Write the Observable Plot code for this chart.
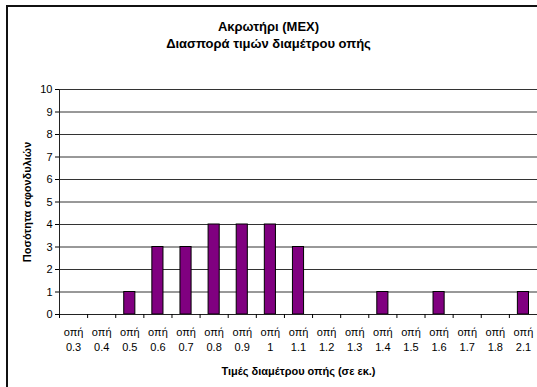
<!DOCTYPE html>
<html>
<head>
<meta charset="utf-8">
<script src="https://cdn.jsdelivr.net/npm/d3@7"></script>
<script src="https://cdn.jsdelivr.net/npm/@observablehq/plot@0.6"></script>
<style>
  html, body { margin: 0; padding: 0; background: #fff; overflow: hidden; }
  body { width: 537px; height: 387px; position: relative; font-family: "Liberation Sans", Arial, sans-serif; }
  #border { position: absolute; left: 6px; top: 5px; width: 600px; height: 450px; border: 2px solid #111; box-sizing: border-box; }
  #title { position: absolute; left: 0; top: 18px; width: 537px; text-align: center; font-weight: bold; font-size: 13px; line-height: 17px; color: #000; }
  #chart { position: absolute; left: 0; top: 60px; }
  #chart svg { overflow: visible; }
  g[aria-label="y-axis label"] text, g[aria-label="x-axis label"] text { font-weight: bold; }
</style>
</head>
<body>
<div id="border"></div>
<div id="title">Ακρωτήρι (MEX)<br>Διασπορά τιμών διαμέτρου οπής</div>
<div id="chart"></div>
<script>
const categories = ["0.3","0.4","0.5","0.6","0.7","0.8","0.9","1","1.1","1.2","1.3","1.4","1.5","1.6","1.7","1.8","2.1"];
const counts = [0,0,1,3,3,4,4,4,3,0,0,1,0,1,0,0,1];
const yTicks = [0,1,2,3,4,5,6,7,8,9,10];
const catPrefix = "οπή";

const data = categories.map((c, i) => ({i, label: catPrefix + "\n" + c, count: counts[i]}));
const boundaries = d3.range(categories.length + 1);
const centers = categories.map((c, i) => i + 0.5);

const chart = Plot.plot({
  width: 537,
  height: 327,
  marginLeft: 59,
  marginRight: 0,
  marginTop: 29,
  marginBottom: 73,
  style: {fontFamily: "Liberation Sans, Arial, sans-serif", fontSize: "11px", color: "#000", background: "transparent"},
  x: {type: "linear", domain: [0, categories.length]},
  y: {domain: [0, 10]},
  marks: [
    Plot.ruleY(yTicks.filter(v => v > 0), {stroke: "#333", strokeWidth: 1}),
    Plot.rectY(data.filter(d => d.count > 0), {x1: "i", x2: d => d.i + 1, y: "count", insetLeft: 8.5, insetRight: 8.5, fill: "#800080", stroke: "#000", strokeWidth: 1}),
    Plot.ruleY([0], {stroke: "#222"}),
    Plot.ruleX([0], {stroke: "#222"}),
    Plot.axisY({ticks: yTicks, tickSize: 4, tickPadding: 3, label: "Ποσότητα σφονδυλιών", labelArrow: "none", labelAnchor: "center", labelOffset: 36}),
    Plot.axisX({ticks: boundaries, tickSize: 4, tickFormat: () => "", label: null}),
    Plot.axisX({ticks: centers, tickSize: 0, tickPadding: 11, lineHeight: 1.35, tickFormat: v => data[Math.round(v - 0.5)].label, label: "Τιμές διαμέτρου οπής (σε εκ.)", labelArrow: "none", labelAnchor: "center", labelOffset: 60})
  ]
});
document.getElementById("chart").appendChild(chart);
</script>
</body>
</html>
